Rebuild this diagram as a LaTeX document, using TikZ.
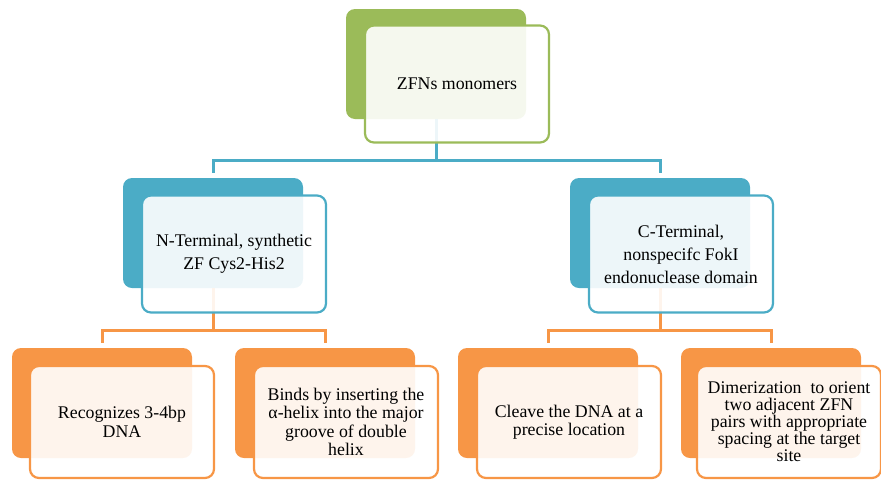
\documentclass[tikz,border=0pt]{standalone}
\usepackage{fontspec}
\setmainfont{Liberation Serif}
\usetikzlibrary{positioning}
\definecolor{zfngreen}{HTML}{9BBB59}
\definecolor{zfnblue}{HTML}{4BACC6}
\definecolor{zfnorange}{HTML}{F79646}

\begin{document}
\begin{tikzpicture}[
  x=1pt, y=-1pt,
  back/.style={fill=#1, rounded corners=9pt, minimum width=180pt,
    minimum height=110pt, inner sep=0pt},
  front/.style={draw=#1, line width=2.2pt, fill=white, fill opacity=0.9,
    text opacity=1, rounded corners=9pt, minimum width=184pt,
    minimum height=117pt, inner sep=2pt, align=center,
    font=\fontsize{17.8}{23}\selectfont},
  leaf/.style={front=zfnorange, minimum height=112pt,
    font=\fontsize{17.8}{18.5}\selectfont},
  link/.style={line width=3pt, draw=#1, shorten >=5pt}
]
  \useasboundingbox (0,0) rectangle (881,480);

  % back cards
  \node[back=zfngreen] (zfnback) at (436,64) {};
  \node[back=zfnblue] (nterback) at (213,233) {};
  \node[back=zfnblue] (cterback) at (660,233) {};
  \node[back=zfnorange] (recback) at (102,403) {};
  \node[back=zfnorange] (bindback) at (325,403) {};
  \node[back=zfnorange] (cleaveback) at (548,403) {};
  \node[back=zfnorange] (dimerback) at (771,403) {};

  % connectors
  \draw[link=zfnblue] (zfnback.south) -- ++(0,41) -| (nterback.north);
  \draw[link=zfnblue] (zfnback.south) -- ++(0,41) -| (cterback.north);
  \draw[link=zfnorange] (nterback.south) -- ++(0,42) -| (recback.north);
  \draw[link=zfnorange] (nterback.south) -- ++(0,42) -| (bindback.north);
  \draw[link=zfnorange] (cterback.south) -- ++(0,42) -| (cleaveback.north);
  \draw[link=zfnorange] (cterback.south) -- ++(0,42) -| (dimerback.north);

  % front cards
  \node[front=zfngreen] (zfn) at (457,84) {ZFNs monomers};
  \node[front=zfnblue] (nter) at (234,254) {N-Terminal,\ synthetic\\ZF Cys2-His2};
  \node[front=zfnblue] (cter) at (681,254)
    {C-Terminal,\\nonspecifc\ FokI\\endonuclease\ domain};
  \node[leaf] (rec) at (122,422) {Recognizes 3-4bp\\DNA};
  \node[leaf] (bind) at (346,422)
    {Binds by inserting the\\α-helix into the major\\groove of double\\helix};
  \node[leaf] (cleave) at (569,422) {Cleave the DNA at a\\precise location};
  \node[leaf, font=\fontsize{17.8}{17}\selectfont] (dimer) at (789,422)
    {Dimerization\ \ to orient\\two adjacent ZFN\\pairs with appropriate\\spacing at the target\\site};
\end{tikzpicture}
\end{document}
